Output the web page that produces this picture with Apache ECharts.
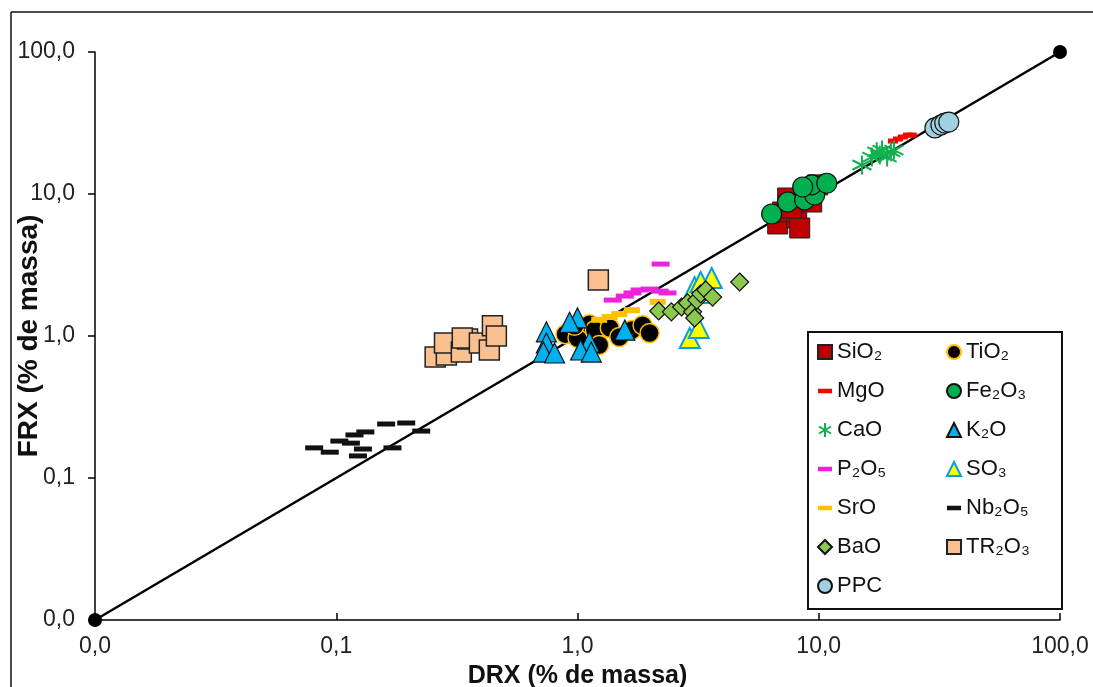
<!DOCTYPE html>
<html><head><meta charset="utf-8">
<script src="https://cdn.jsdelivr.net/npm/echarts@6/dist/echarts.min.js"></script>
<style>html,body{margin:0;padding:0;background:#fff}#c{width:1093px;height:687px}</style>
</head><body><div id="c"></div>
<script>
// [DRX, FRX] in % de massa
const SiO2 = [[6.76,6.15],[7.09,7.47],[7.43,9.37],[8.10,6.78],[8.74,10.3],[9.35,8.78],[9.90,11.6],[8.34,5.76],[7.72,7.97]];
const TiO2 = [[0.892,1.03],[1.0,0.968],[1.12,1.21],[1.18,1.10],[1.36,1.14],[1.49,0.984],[1.68,1.10],[1.86,1.19],[1.99,1.05],[1.23,0.864],[0.972,1.18]];
const MgO = [[20.3,23.6],[21.3,24.4],[22.3,25.2],[23.4,26.0],[24.3,26.0]];
const Fe2O3 = [[6.38,7.23],[7.43,8.78],[8.74,9.08],[9.62,9.84],[9.35,11.6],[10.8,11.9],[8.58,11.2]];
const CaO = [[15.1,16.0],[16.6,18.2],[17.4,19.8],[18.3,20.4],[19.2,18.2],[19.9,19.8],[17.9,18.8],[20.5,20.4]];
const K2O = [[0.743,1.07],[0.743,0.893],[0.722,0.771],[0.803,0.759],[1.0,1.34],[0.927,1.25],[1.12,0.907],[1.03,0.797],[1.14,0.771],[1.57,1.10]];
const P2O5 = [[1.40,1.79],[1.57,1.91],[1.69,2.01],[1.81,2.11],[1.99,2.14],[2.19,2.07],[2.36,2.01],[2.21,3.21]];
const SO3 = [[2.92,0.968],[3.18,1.14],[3.06,2.21],[3.24,2.40],[3.60,2.56],[3.37,2.01]];
const SrO = [[1.23,1.30],[1.36,1.36],[1.49,1.43],[1.68,1.52],[2.15,1.74]];
const Nb2O5 = [[0.081,0.163],[0.094,0.152],[0.115,0.176],[0.119,0.201],[0.132,0.211],[0.161,0.240],[0.195,0.244],[0.225,0.214],[0.129,0.160],[0.123,0.143],[0.171,0.163],[0.103,0.182]];
const BaO = [[2.17,1.50],[2.45,1.48],[2.70,1.60],[2.86,1.71],[3.00,1.48],[3.12,1.79],[3.24,1.98],[3.40,2.11],[3.63,1.88],[4.70,2.40],[3.06,1.34]];
const TR2O3 = [[0.257,0.711],[0.286,0.735],[0.281,0.893],[0.330,0.771],[0.350,0.953],[0.333,0.968],[0.392,0.893],[0.431,0.797],[0.444,1.18],[0.461,1.0],[1.22,2.48]];
const PPC = [[30.3,29.2],[32.1,30.6],[33.3,31.6],[34.6,32.1]];
const identityLine = [[0.01,0.01],[100,100]];
const axisTicks = [0.01, 0.1, 1, 10, 100];
const xName = 'DRX (% de massa)';
const yName = 'FRX (% de massa)';
const sub = s => s.replace(/[0-9]/g, d => String.fromCharCode(0x2080 + +d));

const FONT = '"Liberation Sans", Arial, "DejaVu Sans", sans-serif';
const DASH_ICON = 'path://M0,0h8v2.6h-8z';
const STAR = 'path://M5,0L5,10M0.7,2.5L9.3,7.5M0.7,7.5L9.3,2.5';

function sc(name, data, symbol, size, color, border, bw, extra) {
  return Object.assign({
    name: sub(name), type: 'scatter', data, symbol, symbolSize: size, clip: false,
    itemStyle: { color, borderColor: border, borderWidth: bw, opacity: 1 },
    emphasis: { disabled: true }
  }, extra || {});
}

const series = [
  { type: 'line', data: identityLine, symbol: 'circle', symbolSize: 14, clip: false, z: 1,
    lineStyle: { color: '#000', width: 2.5 }, itemStyle: { color: '#000' }, emphasis: { disabled: true } },
  sc('SiO2', SiO2, 'rect', 20, '#C00000', '#222', 1),
  sc('TiO2', TiO2, 'circle', 19, '#000', '#FFC000', 1.5),
  sc('MgO', MgO, 'rect', [10, 5], '#FF0000', '#FF0000', 0, { symbolKeepAspect: true }),
  sc('Fe2O3', Fe2O3, 'circle', 20, '#00B050', '#111', 1.2),
  sc('CaO', CaO, STAR, 19, 'rgba(0,0,0,0)', '#10B050', 2),
  sc('K2O', K2O, 'triangle', 20, '#00B0F0', '#111', 1.2),
  sc('P2O5', P2O5, 'rect', [18, 5], '#EE22DD', '#EE22DD', 0, { symbolKeepAspect: true }),
  sc('SO3', SO3, 'triangle', 20, '#FFFF00', '#00A0E8', 2),
  sc('SrO', SrO, 'rect', [16, 6], '#FFC000', '#FFC000', 0, { symbolKeepAspect: true }),
  sc('Nb2O5', Nb2O5, 'rect', [18, 5], '#111', '#111', 0, { symbolKeepAspect: true }),
  sc('BaO', BaO, 'diamond', 18, '#8CC850', '#111', 1.2),
  sc('TR2O3', TR2O3, 'rect', 20, '#FAC090', '#222', 1.5),
  sc('PPC', PPC, 'circle', 20, '#A0D0E2', '#111', 1.2)
];

const legendBase = {
  orient: 'vertical', top: 341, padding: 0, itemGap: 17, itemWidth: 14, itemHeight: 14,
  selectedMode: false, z: 10,
  textStyle: { fontSize: 22, lineHeight: 22, color: '#111', fontFamily: FONT }
};
const iconFor = n => (['MgO','P2O5','SrO','Nb2O5'].includes(n) ? DASH_ICON : undefined);
const leg = names => names.map(n => iconFor(n) ? { name: sub(n), icon: iconFor(n) } : { name: sub(n) });
const fmt = v => (+v).toFixed(1).replace('.', ',');

const option = {
  backgroundColor: '#fff',
  animation: false,
  grid: { left: 95, right: 33, top: 52, bottom: 67, containLabel: false, outerBoundsMode: 'none' },
  xAxis: {
    type: 'log', logBase: 10, min: axisTicks[0], max: axisTicks[axisTicks.length - 1],
    name: xName, nameLocation: 'middle', nameGap: 44, nameMoveOverlap: false,
    nameTextStyle: { fontSize: 25, fontWeight: 'bold', color: '#111', fontFamily: FONT },
    axisLine: { lineStyle: { color: '#000', width: 1.5 } },
    axisTick: { inside: true, length: 7, lineStyle: { color: '#000', width: 1.5 } },
    axisLabel: { fontSize: 23, color: '#222', margin: 15, fontFamily: FONT, formatter: fmt },
    splitLine: { show: false }, minorTick: { show: false }
  },
  yAxis: {
    type: 'log', logBase: 10, min: axisTicks[0], max: axisTicks[axisTicks.length - 1],
    name: yName, nameLocation: 'middle', nameGap: 52, nameRotate: 90, nameMoveOverlap: false,
    nameTextStyle: { fontSize: 28, fontWeight: 'bold', color: '#111', fontFamily: FONT },
    axisLine: { lineStyle: { color: '#000', width: 1.5 } },
    axisTick: { inside: false, length: 7, lineStyle: { color: '#000', width: 1.5 } },
    axisLabel: { fontSize: 23, color: '#222', margin: 20, fontFamily: FONT, formatter: fmt },
    splitLine: { show: false }, minorTick: { show: false }
  },
  legend: [
    Object.assign({}, legendBase, { left: 817, data: leg(['SiO2','MgO','CaO','P2O5','SrO','BaO','PPC']) }),
    Object.assign({}, legendBase, { left: 946, data: leg(['TiO2','Fe2O3','K2O','SO3','Nb2O5','TR2O3']) })
  ],
  graphic: [
    { type: 'line', shape: { x1: 11, y1: 12, x2: 1093, y2: 12 }, style: { stroke: '#111', lineWidth: 1.5 }, z: 0 },
    { type: 'line', shape: { x1: 11, y1: 12, x2: 11, y2: 687 }, style: { stroke: '#111', lineWidth: 1.5 }, z: 0 },
    { type: 'rect', shape: { x: 808, y: 332, width: 254, height: 277 }, style: { fill: '#fff', stroke: '#111', lineWidth: 2 }, z: 5 }
  ],
  series
};
const chart = echarts.init(document.getElementById('c'), null, { renderer: 'canvas' });
chart.setOption(option);
</script></body></html>
